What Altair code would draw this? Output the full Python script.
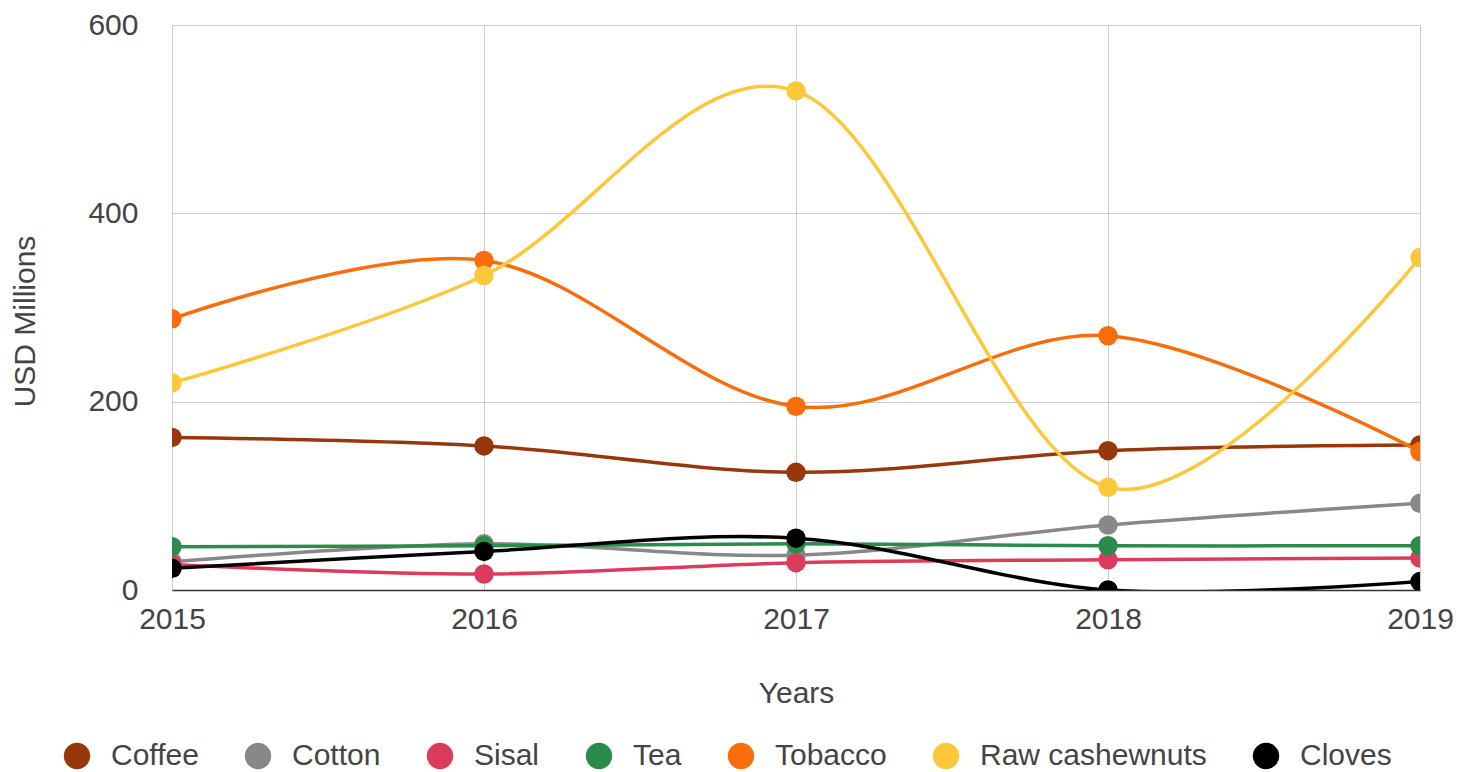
import altair as alt
import pandas as pd

years = [2015, 2016, 2017, 2018, 2019]
series_names = ["Coffee", "Cotton", "Sisal", "Tea", "Tobacco", "Raw cashewnuts", "Cloves"]
coffee = [162, 153, 125, 148, 154]
cotton = [30, 49, 37, 69, 92]
sisal = [27, 17, 29, 32, 34]
tea = [46, 47, 49, 47, 47]
tobacco = [288, 350, 195, 270, 147]
cashew = [220, 334, 530, 109, 353]
cloves = [23, 41, 55, 0, 9]
colors = ["#96380C", "#888888", "#DC3C5B", "#2B8B4B", "#F96D0C", "#FDC73A", "#000000"]

values = [coffee, cotton, sisal, tea, tobacco, cashew, cloves]
rows = []
for name, vals in zip(series_names, values):
    for y, v in zip(years, vals):
        rows.append({"Year": y, "Value": v, "Series": name})
df = pd.DataFrame(rows)

FONT = "Liberation Sans"
TXT = "#444444"
FS = 30
color_scale = alt.Scale(domain=series_names, range=colors)

x_enc = alt.X("Year:Q", scale=alt.Scale(domain=[2015, 2019], nice=False, zero=False),
              axis=alt.Axis(values=years, format="d", title="Years", grid=True,
                            gridColor="#cccccc", tickSize=0, labelPadding=14,
                            labelFlush=False, labelFontSize=FS, labelColor=TXT,
                            labelFont=FONT, titleFont=FONT, titleFontSize=FS,
                            titleFontWeight="normal", titleColor=TXT,
                            titleY=103, titleBaseline="middle",
                            domainColor="#333333", domainWidth=1.5))
y_enc = alt.Y("Value:Q", scale=alt.Scale(domain=[0, 600], nice=False),
              axis=alt.Axis(values=[0, 200, 400, 600], title="USD Millions", grid=True,
                            gridColor="#cccccc", tickSize=0, labelPadding=34,
                            domain=False, labelFontSize=FS, labelColor=TXT,
                            labelFont=FONT, titleFont=FONT, titleFontSize=FS,
                            titleFontWeight="normal", titleColor=TXT,
                            titleX=-147, titleY=296, titleAngle=-90,
                            titleBaseline="middle"))

legend = alt.Legend(title=None, orient="none", direction="horizontal",
                    legendX=-110, legendY=716, symbolType="circle", symbolSize=700,
                    symbolStrokeWidth=0, labelFontSize=FS, labelFont=FONT,
                    labelColor=TXT, labelOffset=19, columnPadding=44,
                    labelLimit=400, columns=7)

layers = []
for i, name in enumerate(series_names):
    sub = df[df["Series"] == name]
    base = alt.Chart(sub).encode(
        x=x_enc, y=y_enc,
        color=alt.Color("Series:N", scale=color_scale,
                        legend=legend if i == 0 else None),
    )
    layers.append(base.mark_line(interpolate="cardinal", strokeWidth=3.5, clip=True))
    layers.append(base.mark_circle(size=380, opacity=1, clip=True))

chart = alt.layer(*layers).properties(
    width=1248, height=565,
    autosize=alt.AutoSizeParams(type="none"),
    padding={"left": 172, "top": 25, "right": 46, "bottom": 182},
    background="white",
).configure_view(stroke=None)

chart.save("out.html", embed_options={"renderer": "svg", "actions": False})
